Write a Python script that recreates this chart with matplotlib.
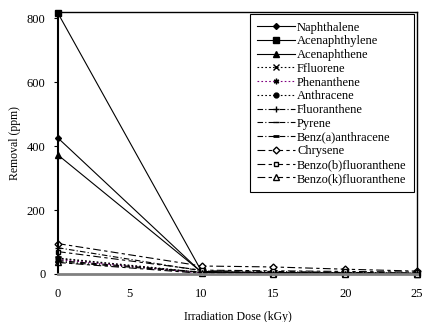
import matplotlib
matplotlib.use("Agg")
import matplotlib.pyplot as plt

plt.rcParams['font.family'] = ['Liberation Serif', 'DejaVu Serif']

# irradiation dose (kGy)
dose = [0, 10, 15, 20, 25]

names = ["Naphthalene", "Acenaphthylene", "Acenaphthene", "Ffluorene",
         "Phenanthene", "Anthracene", "Fluoranthene", "Pyrene",
         "Benz(a)anthracene", "Chrysene", "Benzo(b)fluoranthene",
         "Benzo(k)fluoranthene"]

naphthalene = [425, 5, 3, 2, 1]
acenaphthylene = [815, 8, 4, 3, 2]
acenaphthene = [372, 6, 3, 2, 1]
ffluorene = [48, 4, 2, 1, 1]
phenanthene = [45, 3, 2, 1, 1]
anthracene = [50, 5, 3, 2, 1]
fluoranthene = [82, 10, 8, 5, 3]
pyrene = [38, 5, 4, 3, 2]
benz_a_anthracene = [42, 6, 5, 3, 2]
chrysene = [95, 25, 22, 15, 9]
benzo_b_fluoranthene = [70, 12, 10, 8, 6]
benzo_k_fluoranthene = [36, 2, 1, 1, 1]

series = [naphthalene, acenaphthylene, acenaphthene, ffluorene, phenanthene,
          anthracene, fluoranthene, pyrene, benz_a_anthracene, chrysene,
          benzo_b_fluoranthene, benzo_k_fluoranthene]

dotted = (0, (1.5, 2))
dashdot = (0, (5, 2, 1, 2))
longdash = (0, (7, 3, 3, 3))
styles = [
    dict(ls='-', marker='D', ms=3, mfc='k', color='k'),
    dict(ls='-', marker='s', ms=4, mfc='k', color='k'),
    dict(ls='-', marker='^', ms=4, mfc='k', color='k'),
    dict(ls=dotted, marker='x', ms=4, color='k'),
    dict(ls=dotted, marker=(6, 2, 0), ms=4, color='#800080', mec='k'),
    dict(ls=dotted, marker='o', ms=3.5, mfc='k', color='k'),
    dict(ls=dashdot, marker='+', ms=5, color='k'),
    dict(ls=dashdot, marker='_', ms=5, color='k'),
    dict(ls=dashdot, marker='_', ms=5, mew=2, color='k'),
    dict(ls=longdash, marker='D', ms=3.5, mfc='white', color='k'),
    dict(ls=longdash, marker='s', ms=3.5, mfc='white', color='k'),
    dict(ls=longdash, marker='^', ms=4, mfc='white', color='k'),
]

fig = plt.figure(figsize=(4.24, 3.22), dpi=100)
ax = fig.add_axes([58 / 424, 48 / 322, 359 / 424, 262 / 322])

for name, vals, st in zip(names, series, styles):
    ax.plot(dose, vals, lw=0.8, label=name, clip_on=False, **st)

ax.set_xlim(0, 25)
ax.set_ylim(0, 819)
ax.set_xticks([0, 5, 10, 15, 20, 25])
ax.set_yticks([0, 200, 400, 600, 800])
ax.tick_params(axis='x', length=0, labelsize=9, pad=10)
ax.tick_params(axis='y', length=3, width=0.8, direction='out', labelsize=9, pad=6)
ax.set_xlabel("Irradiation Dose (kGy)", fontsize=8.5, labelpad=8)
ax.set_ylabel("Removal (ppm)", fontsize=8.5, labelpad=4)

ax.spines['left'].set_linewidth(1.5)
ax.spines['bottom'].set_linewidth(2)
ax.spines['bottom'].set_color('#808080')
ax.spines['top'].set_linewidth(1)
ax.spines['right'].set_linewidth(1)

leg = ax.legend(loc='upper right', bbox_to_anchor=(0.992, 0.992), fontsize=9,
                frameon=True, fancybox=False, edgecolor='k', framealpha=1,
                handlelength=3, labelspacing=0.14, borderpad=0.6,
                handletextpad=0.2, borderaxespad=0)
leg.get_frame().set_linewidth(0.8)

fig.savefig("out.png", dpi=100)
